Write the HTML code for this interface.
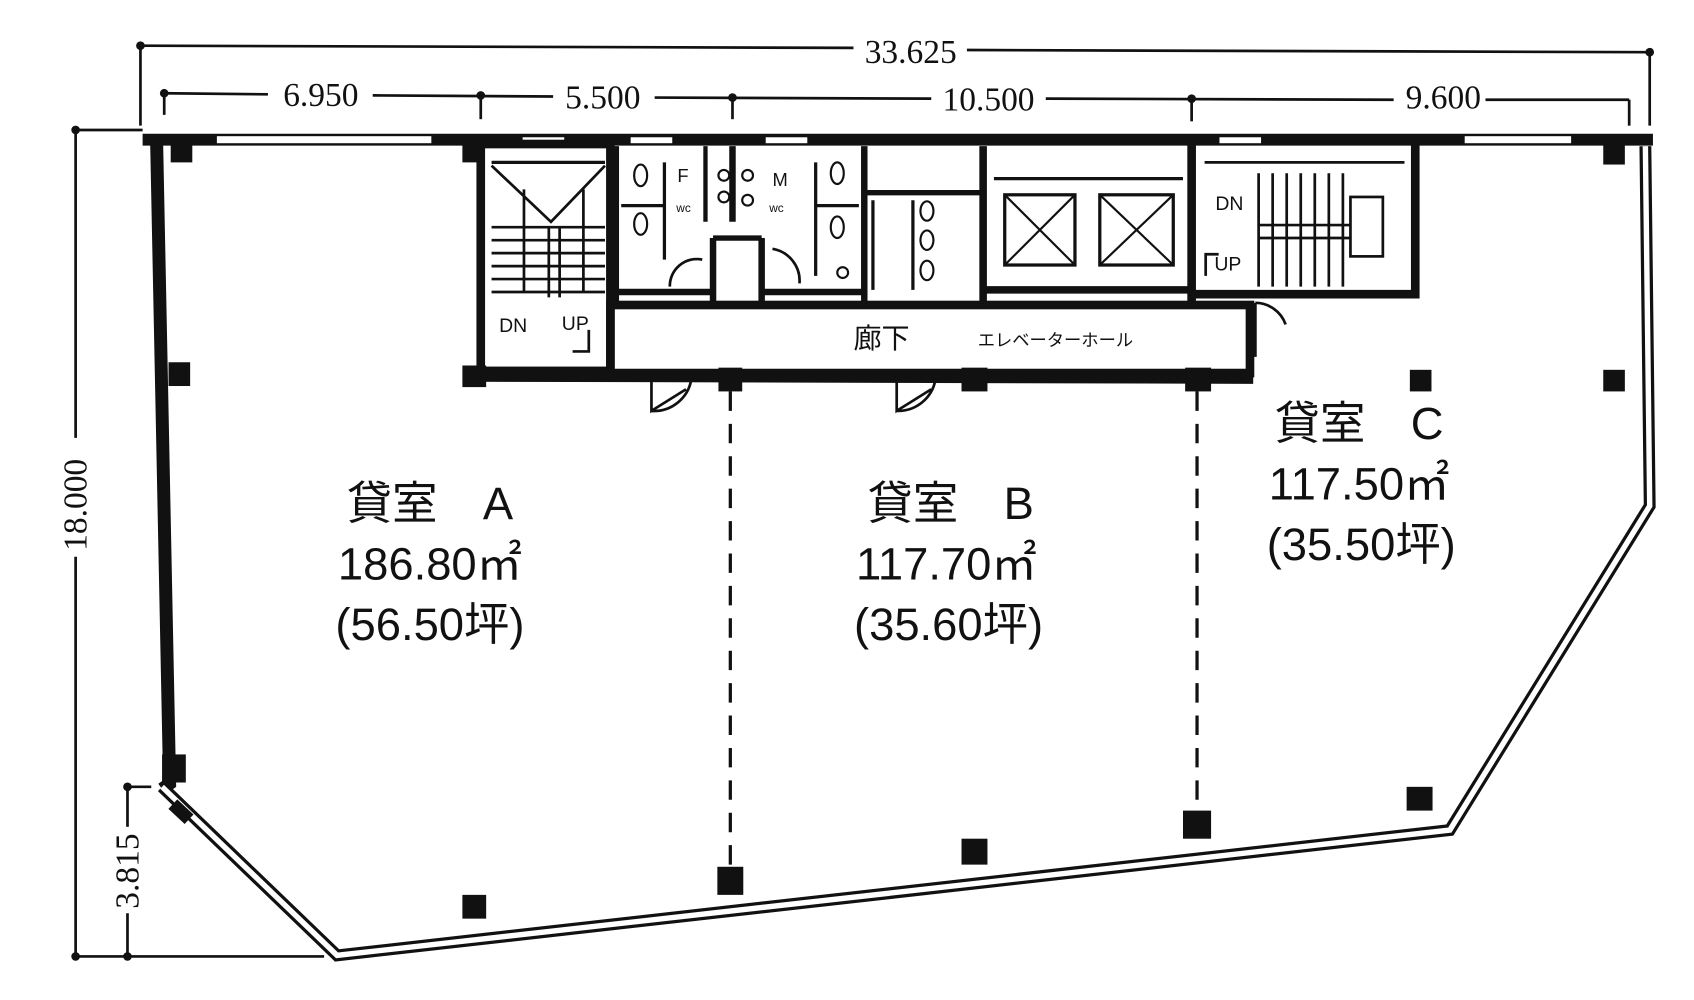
<!DOCTYPE html>
<html><head><meta charset="utf-8"><style>
html,body{margin:0;padding:0;background:#fff;}
svg{display:block}
text{font-family:"Liberation Sans","Noto Sans CJK JP",sans-serif;fill:#111}
.d{font-family:"Liberation Serif","Noto Serif CJK SC",serif}
</style></head><body>
<svg width="1694" height="1000" viewBox="0 0 1568 925" xmlns="http://www.w3.org/2000/svg">
<rect width="1568" height="925" fill="#fff"/>
<g stroke="#111" stroke-width="2.5" fill="none">
<line x1="130" y1="42" x2="790" y2="44"/><line x1="895" y1="46" x2="1527" y2="48"/>
<line x1="130" y1="42" x2="130" y2="116"/><line x1="1527" y1="48" x2="1527" y2="116"/>
<line x1="152" y1="86" x2="248" y2="87"/><line x1="345" y1="88" x2="512" y2="89"/><line x1="606" y1="90" x2="862" y2="91"/><line x1="968" y1="91" x2="1290" y2="92"/><line x1="1375" y1="92" x2="1508" y2="92"/>
<line x1="152" y1="86" x2="152" y2="106"/><line x1="445" y1="88" x2="445" y2="110"/><line x1="678" y1="90" x2="678" y2="110"/><line x1="1103" y1="91" x2="1103" y2="112"/><line x1="1508" y1="92" x2="1508" y2="116"/>
<line x1="70" y1="120" x2="70" y2="405"/><line x1="70" y1="515" x2="70" y2="885"/>
<line x1="70" y1="120" x2="132" y2="120"/><line x1="70" y1="885" x2="300" y2="885"/>
<line x1="118" y1="728" x2="118" y2="765"/><line x1="118" y1="845" x2="118" y2="885"/><line x1="118" y1="728" x2="140" y2="728"/>
</g>
<g fill="#111">
<circle cx="130" cy="42" r="4"/><circle cx="1527" cy="48" r="4"/><circle cx="152" cy="86" r="4"/><circle cx="445" cy="88" r="4"/><circle cx="678" cy="90" r="4"/><circle cx="1103" cy="91" r="4"/><circle cx="70" cy="120" r="4"/><circle cx="70" cy="885" r="4"/><circle cx="118" cy="885" r="4"/><circle cx="118" cy="728" r="4"/>
</g>
<g class="d" font-size="31">
<text class="d" x="843" y="58" text-anchor="middle">33.625</text>
<text class="d" x="297" y="98" text-anchor="middle">6.950</text>
<text class="d" x="558" y="100" text-anchor="middle">5.500</text>
<text class="d" x="915" y="102" text-anchor="middle">10.500</text>
<text class="d" x="1336" y="100" text-anchor="middle">9.600</text>
<text class="d" transform="translate(80,467) rotate(-90)" text-anchor="middle">18.000</text>
<text class="d" transform="translate(128,806) rotate(-90)" text-anchor="middle">3.815</text>
</g>
<g fill="none" stroke="#111">
<line x1="132" y1="129" x2="1530" y2="129" stroke-width="11"/>
<polyline points="145,132 157,725 150,730" stroke-width="12"/>
<polyline points="150,728 312,884 1342,768 1527,468 1523,135" stroke-width="11"/>
<polyline points="150,728 312,884 1342,768 1527,468 1523,135" stroke-width="5" stroke="#fff"/>
<line x1="160" y1="744" x2="175" y2="758" stroke-width="12"/>
</g>
<g fill="#fff" stroke="#111" stroke-width="1.5">
<rect x="200" y="125" width="200" height="8"/><rect x="1355" y="125" width="100" height="8"/>
<rect x="483" y="126" width="40" height="7"/><rect x="583" y="126" width="40" height="7"/><rect x="708" y="126" width="40" height="7"/><rect x="1128" y="126" width="40" height="7"/>
</g>
<g stroke="#111" stroke-width="3" stroke-dasharray="18,12">
<line x1="676" y1="362" x2="676" y2="812"/><line x1="1108" y1="362" x2="1108" y2="768"/>
</g>
<g fill="none" stroke="#111">
<rect x="445" y="133" width="120" height="210" stroke-width="8"/>
<rect x="565" y="282" width="592" height="63" stroke-width="8"/>
<line x1="430" y1="348" x2="1160" y2="350" stroke-width="10"/>
<line x1="570" y1="135" x2="570" y2="280" stroke-width="6"/>
<line x1="570" y1="270" x2="660" y2="270" stroke-width="6"/>
<line x1="705" y1="270" x2="800" y2="270" stroke-width="6"/>
<line x1="660" y1="220" x2="660" y2="280" stroke-width="6"/>
<line x1="705" y1="220" x2="705" y2="280" stroke-width="6"/>
<line x1="660" y1="220" x2="705" y2="220" stroke-width="5"/>
<line x1="678" y1="135" x2="678" y2="205" stroke-width="6"/>
<line x1="653" y1="135" x2="653" y2="205" stroke-width="4"/>
<line x1="800" y1="135" x2="800" y2="280" stroke-width="6"/>
<line x1="910" y1="135" x2="910" y2="280" stroke-width="7"/>
<line x1="800" y1="178" x2="910" y2="178" stroke-width="5"/>
<line x1="910" y1="268" x2="1103" y2="268" stroke-width="7"/>
<line x1="1103" y1="132" x2="1103" y2="280" stroke-width="8"/>
<polyline points="1103,272 1310,272 1310,132" stroke-width="8"/>
<line x1="920" y1="165" x2="1095" y2="165" stroke-width="3"/>
<rect x="930" y="180" width="65" height="65" stroke-width="3"/><path d="M930 180L995 245M995 180L930 245" stroke-width="2"/>
<rect x="1018" y="180" width="68" height="65" stroke-width="3"/><path d="M1018 180L1086 245M1086 180L1018 245" stroke-width="2"/>
<line x1="808" y1="185" x2="808" y2="268" stroke-width="3"/><line x1="845" y1="185" x2="845" y2="268" stroke-width="3"/>
<line x1="615" y1="150" x2="615" y2="240" stroke-width="3"/><line x1="755" y1="150" x2="755" y2="255" stroke-width="3"/>
<line x1="575" y1="190" x2="615" y2="190" stroke-width="3"/><line x1="755" y1="190" x2="795" y2="190" stroke-width="3"/>
<path d="M455 153L510 205L560 153M485 175V270M540 175V270M508 210V275M518 210V275" stroke-width="2.5"/>
<g stroke-width="2.5">
<line x1="455" y1="210" x2="560" y2="210"/><line x1="455" y1="222" x2="560" y2="222"/><line x1="455" y1="234" x2="560" y2="234"/><line x1="455" y1="246" x2="560" y2="246"/><line x1="455" y1="258" x2="560" y2="258"/><line x1="455" y1="270" x2="560" y2="270"/>
</g>
<line x1="455" y1="150" x2="560" y2="150" stroke-width="3"/>
<path d="M545 305V325H530" stroke-width="2.5"/>
<g stroke-width="2.5">
<line x1="1165" y1="160" x2="1165" y2="265"/><line x1="1178" y1="160" x2="1178" y2="265"/><line x1="1191" y1="160" x2="1191" y2="265"/><line x1="1204" y1="160" x2="1204" y2="265"/><line x1="1217" y1="160" x2="1217" y2="265"/><line x1="1230" y1="160" x2="1230" y2="265"/><line x1="1243" y1="160" x2="1243" y2="265"/>
<line x1="1165" y1="208" x2="1250" y2="208"/><line x1="1165" y1="220" x2="1250" y2="220"/>
<rect x="1250" y="182" width="30" height="55"/>
<line x1="1115" y1="150" x2="1300" y2="150"/>
<path d="M1116 255V235H1128"/>
</g>
<g stroke-width="2.5">
<path d="M603 348V380L635 360 M603 380A35 35 0 0 0 640 350"/>
<path d="M830 348V380L862 360 M830 380A35 35 0 0 0 866 350"/>
<path d="M1162 280V330M1162 280A30 30 0 0 1 1190 300"/>
<path d="M620 265A25 25 0 0 1 650 240M715 230A30 30 0 0 1 740 262"/>
</g>
</g>
<g fill="#fff" stroke="#111" stroke-width="2">
<circle cx="670" cy="162" r="5"/><circle cx="670" cy="182" r="5"/><circle cx="692" cy="162" r="5"/><circle cx="692" cy="185" r="5"/><circle cx="780" cy="252" r="5"/>
<ellipse cx="593" cy="162" rx="6" ry="10"/><ellipse cx="593" cy="207" rx="6" ry="10"/><ellipse cx="775" cy="160" rx="6" ry="10"/><ellipse cx="775" cy="210" rx="6" ry="10"/>
<ellipse cx="858" cy="195" rx="6" ry="9"/><ellipse cx="858" cy="222" rx="6" ry="9"/><ellipse cx="858" cy="250" rx="6" ry="9"/>
</g>
<g fill="#111">
<rect x="158" y="132" width="20" height="18"/><rect x="156" y="335" width="20" height="22"/><rect x="150" y="698" width="22" height="26"/>
<rect x="428" y="828" width="22" height="22"/><rect x="664" y="802" width="24" height="26"/><rect x="890" y="776" width="24" height="24"/><rect x="1095" y="750" width="26" height="26"/><rect x="1302" y="728" width="24" height="22"/>
<rect x="1305" y="342" width="20" height="20"/><rect x="1484" y="342" width="20" height="20"/><rect x="1484" y="132" width="20" height="20"/>
<rect x="428" y="130" width="18" height="20"/><rect x="428" y="338" width="22" height="20"/><rect x="665" y="340" width="22" height="22"/><rect x="890" y="340" width="24" height="22"/><rect x="1097" y="340" width="24" height="22"/>
</g>
<g font-size="18">
<text x="462" y="307">DN</text><text x="520" y="305">UP</text>
<text x="1125" y="194">DN</text><text x="1124" y="250">UP</text>
<text x="627" y="168" font-size="17">F</text><text x="626" y="196" font-size="11">wc</text>
<text x="715" y="172" font-size="17">M</text><text x="712" y="196" font-size="11">wc</text>
</g>
<text x="790" y="322" font-size="26">廊下</text>
<text x="905" y="320" font-size="16">エレベーターホール</text>
<g font-size="42" text-anchor="middle">
<text x="398" y="480">貸室　A</text><text x="398" y="536">186.80㎡</text><text x="398" y="592">(56.50坪)</text>
<text x="880" y="480">貸室　B</text><text x="876" y="536">117.70㎡</text><text x="878" y="592">(35.60坪)</text>
<text x="1258" y="406">貸室　C</text><text x="1258" y="462">117.50㎡</text><text x="1260" y="518">(35.50坪)</text>
</g>
</svg>
</body></html>
